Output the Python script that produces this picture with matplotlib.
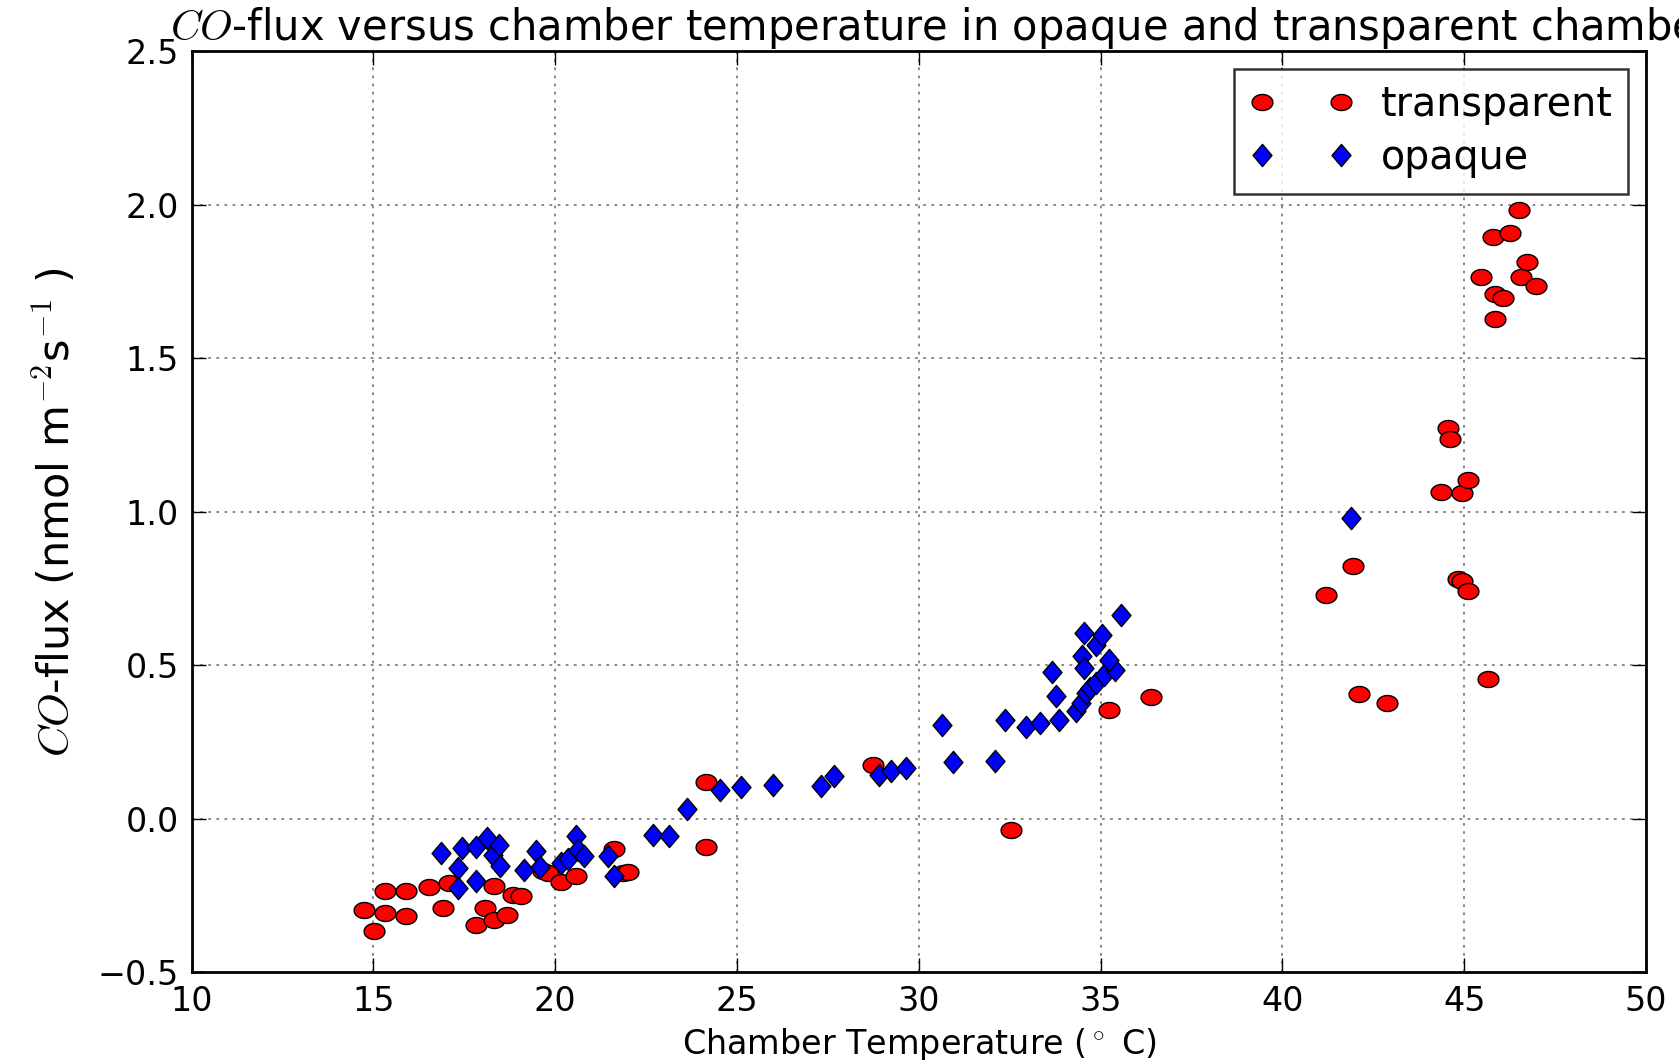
import numpy as np
import matplotlib
matplotlib.use("Agg")
import matplotlib.pyplot as plt
from matplotlib.path import Path

# chamber temperature (deg C) and CO flux (nmol m-2 s-1)
transparent_temp = [
    14.73, 15.01, 15.33, 15.33, 15.90, 15.90, 16.54, 16.91, 17.09, 17.82,
    18.07, 18.33, 18.33, 18.67, 18.85, 19.06, 19.66, 19.79, 20.16, 20.57,
    21.63, 21.86, 22.01, 24.15, 24.15, 28.73, 32.55, 35.23, 36.38,
    41.20, 41.93, 42.10, 42.88, 44.36, 44.55, 44.62, 44.82, 44.95, 44.95,
    45.10, 45.10, 45.47, 45.66, 45.80, 45.85, 45.86, 46.08, 46.27, 46.50,
    46.56, 46.72, 46.98,
]
transparent_flux = [
    -0.296, -0.364, -0.234, -0.307, -0.234, -0.315, -0.223, -0.290, -0.209, -0.345,
    -0.290, -0.220, -0.328, -0.314, -0.247, -0.252, -0.171, -0.176, -0.207, -0.185,
    -0.098, -0.176, -0.174, 0.119, -0.092, 0.174, -0.037, 0.356, 0.397,
    0.730, 0.823, 0.406, 0.377, 1.066, 1.272, 1.237, 0.780, 0.776, 1.060,
    1.104, 0.742, 1.764, 0.455, 1.897, 1.711, 1.627, 1.697, 1.907, 1.984,
    1.764, 1.813, 1.737,
]

opaque_temp = [
    16.86, 17.32, 17.32, 17.43, 17.82, 17.82, 18.13, 18.28, 18.46, 18.49,
    19.13, 19.47, 19.57, 20.16, 20.35, 20.57, 20.62, 20.80, 21.45, 21.63,
    22.69, 23.13, 23.63, 24.52, 25.12, 25.98, 27.31, 27.68, 28.91, 29.25,
    29.65, 30.64, 30.95, 32.10, 32.37, 32.94, 33.34, 33.66, 33.77, 33.86,
    34.32, 34.46, 34.59, 34.70, 34.87, 35.10, 35.40, 34.50, 34.55, 34.55,
    34.87, 35.05, 35.23, 35.56, 41.90,
]
opaque_flux = [
    -0.111, -0.160, -0.225, -0.095, -0.092, -0.204, -0.062, -0.117, -0.084, -0.152,
    -0.168, -0.106, -0.157, -0.144, -0.131, -0.055, -0.100, -0.120, -0.122, -0.187,
    -0.051, -0.057, 0.032, 0.095, 0.103, 0.111, 0.106, 0.138, 0.142, 0.155,
    0.166, 0.307, 0.184, 0.190, 0.321, 0.299, 0.312, 0.480, 0.399, 0.323,
    0.350, 0.377, 0.410, 0.426, 0.443, 0.470, 0.486, 0.529, 0.492, 0.606,
    0.567, 0.600, 0.519, 0.665, 0.981,
]

x_ticks = [10, 15, 20, 25, 30, 35, 40, 45, 50]
y_ticks = [-0.5, 0.0, 0.5, 1.0, 1.5, 2.0, 2.5]

plt.rcParams["font.family"] = ["DejaVu Sans"]
plt.rcParams["mathtext.fontset"] = "cm"

# the source image is stretched sideways, so the markers are too
t = np.linspace(0, 2 * np.pi, 40)
ellipse = Path(np.column_stack([1.3 * np.cos(t), np.sin(t)]), closed=True)
diamond = Path([(0, 1), (0.85, 0), (0, -1), (-0.85, 0), (0, 1)], closed=True)

fig = plt.figure(figsize=(16.79, 10.6), dpi=100)
ax = fig.add_axes([0.1141, 0.0827, 0.8662, 0.8688])

ax.plot(transparent_temp, transparent_flux, ls="none", marker=ellipse, ms=15,
        mfc="red", mec="black", mew=1, label="transparent")
ax.plot(opaque_temp, opaque_flux, ls="none", marker=diamond, ms=16,
        mfc="blue", mec="black", mew=1, label="opaque")

ax.set_xlim(10, 50)
ax.set_ylim(-0.5, 2.5)
ax.set_xticks(x_ticks)
ax.set_yticks(y_ticks)
ax.grid(True, color="0.5", ls=(0, (1.5, 3)), lw=1.3)
ax.tick_params(direction="in", length=10, width=1, top=True, right=True,
               labelsize=24, pad=9)
for spine in ax.spines.values():
    spine.set_linewidth(2)

ax.set_xlabel(r"Chamber Temperature ($^\circ$ C)", fontsize=24)
ax.xaxis.set_label_coords(0.5, -0.058)
ax.set_ylabel(r"$CO$-flux (nmol m$^{-2}$s$^{-1}$ )", fontsize=31)
ax.yaxis.set_label_coords(-0.078, 0.5)

# title runs past the right edge of the figure, as in the original
fig.suptitle(r"$CO$-flux versus chamber temperature in opaque and transparent chamber",
             x=170 / 1679, y=1 - 40 / 1060, ha="left", va="baseline", fontsize=30)

leg = ax.legend(loc="upper right", numpoints=2, fontsize=28.5, fancybox=False,
                borderaxespad=0.45, handlelength=2.6, handletextpad=0.7,
                labelspacing=0.33, borderpad=0.4)
leg.get_frame().set_edgecolor("black")
leg.get_frame().set_linewidth(1.8)

fig.savefig("out.png", dpi=100)
